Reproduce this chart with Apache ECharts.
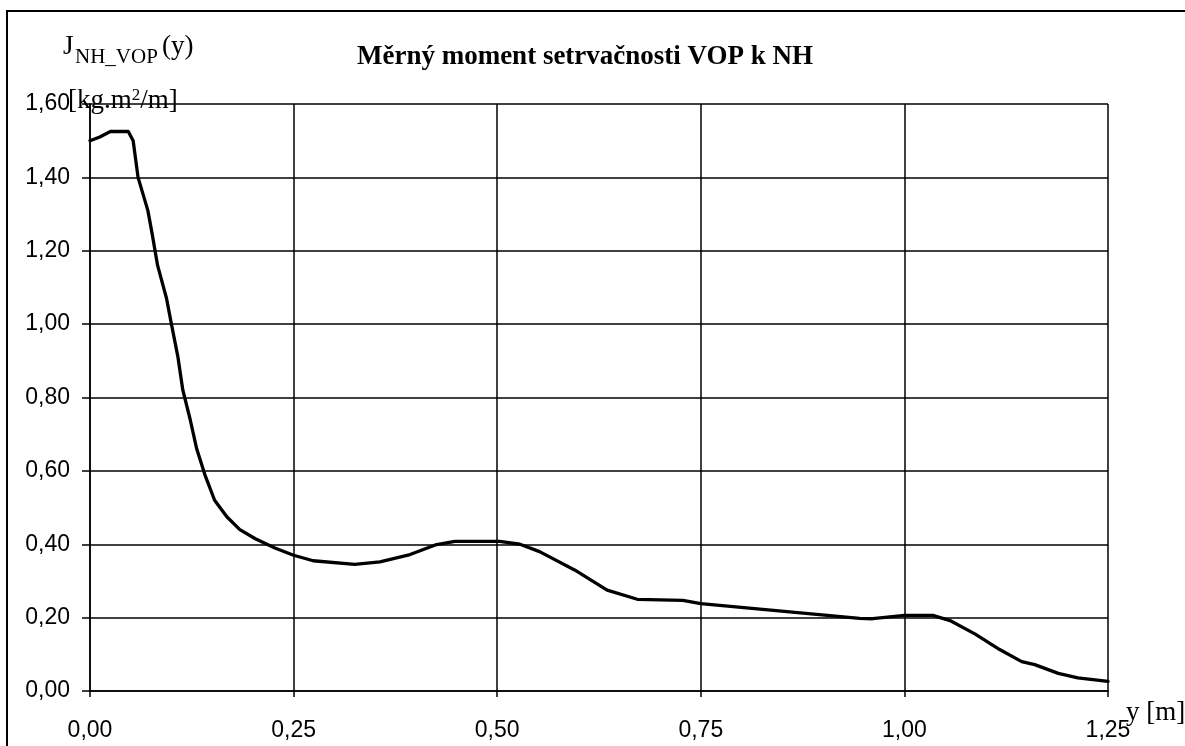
<!DOCTYPE html>
<html>
<head>
<meta charset="utf-8">
<script src="https://cdn.jsdelivr.net/npm/echarts@6/dist/echarts.min.js"></script>
<style>
  html, body { margin: 0; padding: 0; background: #fff; }
  #chart { width: 1185px; height: 746px; }
</style>
</head>
<body>
<div id="chart"></div>
<script>
// Span position y [m]
const spanY = [0, 0.012, 0.025, 0.047, 0.053, 0.059, 0.071, 0.076, 0.083, 0.094, 0.100, 0.108, 0.114, 0.123, 0.131, 0.141, 0.153, 0.168, 0.184, 0.203, 0.227, 0.25, 0.274, 0.325, 0.356, 0.393, 0.424, 0.448, 0.503, 0.528, 0.552, 0.595, 0.635, 0.672, 0.728, 0.75, 0.945, 0.961, 1.0, 1.035, 1.056, 1.087, 1.117, 1.144, 1.16, 1.189, 1.213, 1.25];
// Specific moment of inertia J_NH_VOP(y) [kg.m2/m]
const momentJ = [1.50, 1.51, 1.525, 1.525, 1.50, 1.40, 1.31, 1.25, 1.16, 1.07, 1.00, 0.91, 0.82, 0.74, 0.66, 0.59, 0.52, 0.475, 0.44, 0.415, 0.39, 0.37, 0.355, 0.345, 0.352, 0.372, 0.398, 0.408, 0.408, 0.40, 0.38, 0.33, 0.275, 0.25, 0.247, 0.238, 0.198, 0.197, 0.206, 0.206, 0.192, 0.155, 0.113, 0.08, 0.072, 0.048, 0.036, 0.026];

const titleText = 'Měrný moment setrvačnosti VOP k NH';

const points = spanY.map((x, i) => [x, momentJ[i]]);
const fmt = v => v.toFixed(2).replace('.', ',');
const serif = '"Liberation Serif", "Times New Roman", serif';
const sans = '"Liberation Sans", Arial, sans-serif';

const chart = echarts.init(document.getElementById('chart'), null, { renderer: 'canvas' });
chart.setOption({
  backgroundColor: '#fff',
  animation: false,
  title: {
    text: titleText,
    left: 580, top: 39, textAlign: 'center',
    textStyle: { fontFamily: serif, fontWeight: 'bold', fontSize: 27, color: '#000' }
  },
  grid: { left: 90, right: 77, top: 104, bottom: 55 },
  xAxis: {
    type: 'value', min: 0, max: 1.25, interval: 0.25,
    axisLine: { lineStyle: { color: '#000', width: 1.5 } },
    axisTick: { show: true, length: 6, lineStyle: { color: '#000', width: 1.5 } },
    axisLabel: { formatter: fmt, margin: 28, fontFamily: sans, fontSize: 23, color: '#000' },
    splitLine: { show: true, lineStyle: { color: '#000', width: 1.5 } }
  },
  yAxis: {
    type: 'value', min: 0, max: 1.6, interval: 0.2,
    axisLine: { show: true, lineStyle: { color: '#000', width: 1.5 } },
    axisTick: { show: true, length: 8, lineStyle: { color: '#000', width: 1.5 } },
    axisLabel: { formatter: fmt, margin: 20, fontFamily: sans, fontSize: 23, color: '#000' },
    splitLine: { show: true, lineStyle: { color: '#000', width: 1.5 } }
  },
  series: [{
    type: 'line',
    data: points,
    smooth: false,
    showSymbol: false,
    lineStyle: { color: '#000', width: 3.3, join: 'round', cap: 'round' }
  }],
  graphic: [
    { type: 'rect', shape: { x: 7, y: 11, width: 1200, height: 760 }, style: { fill: 'none', stroke: '#000', lineWidth: 2 }, silent: true },
    { type: 'text', left: 63, top: 33, style: { text: 'J', font: '27px ' + serif, fill: '#000' } },
    { type: 'text', left: 75, top: 47, style: { text: 'NH_VOP', font: '21px ' + serif, fill: '#000' } },
    { type: 'text', left: 162, top: 33, style: { text: '(y)', font: '27px ' + serif, fill: '#000' } },
    { type: 'text', left: 68, top: 87, style: {
        text: '{a|[kg.m}{s|2}{a|/m]}',
        rich: { a: { font: '27px ' + serif, fill: '#000', verticalAlign: 'bottom' },
                s: { font: '17px ' + serif, fill: '#000', verticalAlign: 'top' } } } },
    { type: 'text', left: 1126, top: 699, style: { text: 'y [m]', font: '27px ' + serif, fill: '#000' } }
  ]
});
</script>
</body>
</html>
